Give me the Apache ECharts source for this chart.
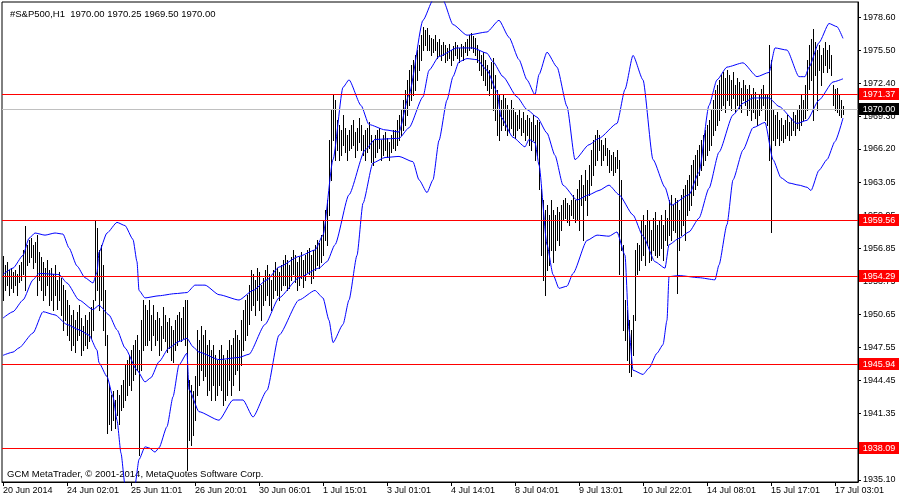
<!DOCTYPE html>
<html><head><meta charset="utf-8">
<script src="https://cdn.jsdelivr.net/npm/echarts@6/dist/echarts.min.js"></script>
<style>html,body{margin:0;padding:0;background:#fff}#c{width:900px;height:500px}</style>
</head><body><div id="c"></div>
<script>
// ---- data ----
const symbolTitle = '#S&P500,H1';
const lastOHLC = [1970.00, 1970.25, 1969.50, 1970.00];
const copyright = 'GCM MetaTrader, \u00a9 2001-2014, MetaQuotes Software Corp.';
const xTickLabels = ['20 Jun 2014','24 Jun 02:01','25 Jun 11:01','26 Jun 20:01','30 Jun 06:01','1 Jul 15:01','3 Jul 01:01','4 Jul 14:01','8 Jul 04:01','9 Jul 13:01','10 Jul 22:01','14 Jul 08:01','15 Jul 17:01','17 Jul 03:01'];
const xTickEvery = 32;
const emptySlotsRight = 7;
const yTicks = [1978.60,1975.50,1972.40,1969.30,1966.20,1963.05,1959.95,1956.85,1953.75,1950.65,1947.55,1944.45,1941.35,1938.25,1935.10];
const levels = [1971.37, 1959.56, 1954.29, 1945.94, 1938.09];
const bidPrice = 1970.00;

const barHigh = [
1956.1,1955.3,1955.6,1954.8,1955.0,1954.6,1954.8,1954.4,1955.3,1955.6,
1956.7,1959.0,1957.2,1957.6,1957.8,1957.2,1957.5,1958.1,1956.5,1956.0,
1955.6,1955.0,1955.8,1954.8,1955.0,1954.4,1955.3,1953.9,1954.6,1954.1,
1953.4,1952.9,1952.0,1951.5,1950.6,1951.1,1950.1,1950.9,1951.5,1950.3,
1949.6,1950.6,1950.1,1950.9,1951.3,1952.0,1959.5,1958.8,1956.7,1957.2,
1955.3,1952.9,1948.7,1944.0,1943.1,1943.4,1942.6,1943.5,1943.1,1944.0,
1944.5,1945.9,1946.4,1946.8,1947.3,1947.8,1948.2,1948.7,1947.3,1950.1,
1952.0,1951.5,1951.1,1952.0,1950.6,1951.5,1950.1,1950.9,1950.3,1949.6,
1951.3,1950.6,1949.9,1950.3,1949.6,1949.2,1950.1,1950.6,1950.9,1950.3,
1951.3,1952.0,1952.0,1944.5,1944.0,1943.4,1944.9,1949.2,1948.2,1949.6,
1948.7,1949.2,1947.8,1948.2,1947.3,1947.8,1946.8,1946.4,1947.3,1947.8,
1946.8,1946.4,1947.3,1948.2,1947.8,1948.4,1949.2,1948.7,1948.2,1950.1,
1951.1,1952.0,1952.5,1953.4,1954.8,1954.4,1953.9,1955.0,1954.6,1953.4,
1954.1,1954.8,1955.3,1954.4,1953.9,1954.8,1955.6,1955.0,1954.6,1955.3,
1955.8,1956.2,1955.8,1955.3,1956.0,1956.7,1956.2,1955.6,1956.0,1956.5,
1955.8,1956.2,1956.7,1956.9,1956.2,1956.7,1957.2,1957.6,1957.4,1958.1,
1959.5,1960.5,1961.4,1967.0,1969.9,1971.3,1970.8,
1968.9,1968.5,1968.0,1969.4,1968.2,1967.5,1968.0,1968.5,1968.9,1967.8,1968.2,1969.1,1968.5,1967.5,1968.0,1968.2,1968.7,1967.5,1967.0,
1967.5,1968.0,1968.2,1967.0,1967.5,1967.8,1967.2,1966.9,1967.5,1968.0,
1968.0,1968.9,1969.4,1969.9,1970.8,
1971.7,1972.7,1973.6,1974.1,1974.6,
1975.0,1975.5,1976.0,
1976.9,1977.7,1977.4,1977.6,
1976.9,1976.6,1976.5,1976.9,1976.3,1976.5,1976.0,1976.3,
1976.0,1975.7,1976.1,1975.5,1975.9,1976.3,1976.0,1975.7,1976.1,1975.9,1976.3,1976.5,
1976.9,1977.1,1976.8,1976.6,1976.0,
1975.5,1975.0,1975.3,1974.6,1974.1,1973.6,1974.4,1974.8,
1973.2,1971.7,1971.3,1970.8,1971.3,
1971.0,1970.3,1969.9,1970.8,1970.1,1969.7,1969.4,1969.9,1969.1,1969.7,1968.9,1969.4,
1969.1,1968.7,1969.4,1968.5,1968.9,1968.7,
1962.4,1961.4,1960.5,1960.9,1960.0,1961.4,
1960.5,1960.0,1960.7,1960.3,1960.9,
1961.4,1961.6,1961.1,1960.9,1961.4,1961.9,1961.4,
1962.4,1963.3,1963.8,1962.8,1964.2,1963.3,1964.7,
1966.1,1967.0,1967.5,1968.0,1967.5,1967.0,1966.6,1967.2,1966.3,
1966.1,1965.6,1965.9,1965.4,1966.1,
1965.2,1963.3,1957.2,
1952.0,1951.1,1950.1,1949.2,1950.6,
1956.7,1957.4,1957.2,
1959.5,1960.0,1959.1,1960.5,1959.5,1958.6,1959.7,1960.3,1959.1,
1959.5,1960.0,1959.1,1960.5,1959.7,
1961.4,1961.9,1960.9,1961.6,
1961.4,
1960.5,1961.9,1962.4,1962.8,1963.3,1963.8,
1964.7,1965.2,1965.6,1966.1,1966.6,1967.0,
1967.5,1968.0,1968.5,1968.9,1969.9,1970.8,
1971.7,1972.2,1972.7,1973.2,1973.4,1972.9,
1973.6,1973.2,1972.7,1973.4,1972.2,1972.9,1972.5,1971.9,1972.7,1972.2,
1971.8,1972.2,1971.3,1971.9,1971.6,1970.8,1971.3,1971.8,1972.2,1971.3,
1971.3,1976.0,1974.6,
1969.9,1969.4,1969.7,1968.9,1969.1,1968.5,1968.9,1969.4,1968.7,1969.1,1969.7,1969.4,1969.9,
1970.3,1971.3,1970.8,1972.2,
1974.6,1976.0,1976.5,1977.5,
1976.3,1975.5,1976.0,1975.0,1975.7,
1976.3,1975.5,1976.0,1975.0,
1972.2,1971.8,1971.9,1971.3,1970.8,1970.25
];
const barLow = [
1952.0,1952.9,1953.4,1952.5,1953.1,1952.8,1953.4,1952.5,1953.7,1953.9,
1954.4,1952.9,1955.3,1955.6,1956.0,1955.0,1955.6,1952.5,1953.9,1952.9,
1952.0,1952.5,1953.4,1951.5,1952.0,1951.1,1952.5,1951.2,1952.0,1950.6,
1949.2,1950.1,1948.7,1948.2,1947.3,1947.8,1947.1,1948.2,1948.7,1946.8,
1947.3,1947.8,1947.5,1948.1,1948.4,1949.2,1952.0,1952.9,1951.1,1952.0,
1949.2,1947.8,1939.5,1940.3,1939.8,1940.7,1940.0,1941.2,1940.3,1941.7,
1941.9,1942.6,1943.1,1944.0,1943.5,1944.5,1945.0,1945.4,1937.4,1945.4,
1947.3,1947.8,1947.8,1948.2,1947.3,1948.7,1947.8,1948.2,1946.8,1947.3,
1948.4,1948.1,1947.1,1947.5,1946.4,1946.2,1947.3,1947.8,1948.2,1948.1,
1948.4,1947.8,1936.0,1938.8,1938.4,1939.3,1940.7,1943.1,1944.0,1945.4,
1944.5,1944.9,1943.1,1943.5,1942.6,1944.0,1942.6,1943.1,1944.0,1943.5,
1942.1,1942.6,1943.1,1944.5,1943.1,1944.0,1945.0,1945.4,1943.5,1945.9,
1947.3,1948.2,1948.7,1949.7,1951.1,1951.5,1950.6,1952.0,1951.1,1950.1,
1951.5,1952.0,1952.5,1951.5,1951.1,1952.2,1952.9,1952.5,1952.0,1952.9,
1953.4,1953.4,1952.9,1953.1,1953.9,1954.4,1953.7,1952.9,1953.4,1954.1,
1953.2,1953.9,1954.6,1954.4,1953.6,1954.1,1954.8,1955.3,1955.0,1955.6,
1956.2,1957.6,1957.2,1960.0,1963.3,1967.0,1965.2,
1966.1,1965.2,1965.6,1966.6,1965.9,1965.2,1966.1,1966.3,1966.6,1965.4,1966.1,1966.9,1966.1,1965.6,1965.2,1965.9,1966.3,1965.0,1964.7,
1965.4,1965.9,1966.3,1965.2,1965.6,1966.1,1965.4,1965.2,1965.9,1966.3,
1966.1,1966.6,1967.0,1967.5,1968.0,
1968.5,1969.4,1970.3,1970.8,1971.3,
1971.7,1972.7,1973.6,
1974.6,1975.5,1976.0,1975.5,
1975.5,1975.0,1975.3,1975.5,1974.8,1975.0,1974.6,1975.0,
1974.4,1974.6,1974.8,1974.1,1974.6,1975.0,1974.8,1974.4,1974.9,1974.6,1975.3,1975.0,
1975.5,1975.7,1975.3,1975.0,1974.4,
1973.6,1973.2,1972.7,1972.2,1971.7,1971.3,1971.9,1969.9,
1968.9,1967.5,1967.0,1968.0,1968.5,
1968.0,1967.5,1967.8,1968.2,1967.5,1967.2,1968.0,1968.2,1967.5,1967.8,1967.0,1967.5,
1966.6,1966.1,1967.0,1965.2,1965.6,1962.4,
1956.2,1953.9,1952.5,1954.8,1955.3,1956.7,
1955.6,1956.7,1957.6,1957.2,1958.6,
1959.5,1959.7,1959.3,1959.1,1960.0,1959.7,1959.3,
1959.5,1958.6,1960.9,1957.6,1961.4,1960.0,1961.9,
1962.8,1963.8,1964.7,1965.2,1966.1,1964.7,1965.2,1965.6,1964.7,
1964.0,1964.2,1963.8,1964.0,1964.4,
1954.4,1956.7,1949.2,
1948.2,1946.4,1945.2,1944.9,1946.8,
1950.1,1954.4,1954.8,
1955.8,1956.2,1955.3,1957.2,1955.6,1955.8,1956.7,1956.2,1956.0,
1956.2,1956.9,1955.8,1957.6,1957.2,
1958.1,1957.6,1958.6,1958.4,
1952.7,
1956.7,1958.1,1959.1,1957.6,1960.0,1960.5,
1960.9,1961.9,1962.4,1962.8,1963.8,1964.2,
1964.7,1965.2,1965.6,1966.1,1966.6,1967.5,
1968.0,1968.5,1968.9,1969.9,1970.3,1969.7,
1970.8,1970.3,1969.9,1971.0,1969.7,1970.3,1970.1,1969.7,1970.8,1970.3,
1969.4,1969.9,1968.9,1969.7,1969.1,1968.5,1969.4,1969.9,1970.3,1968.9,
1968.5,1965.2,1958.4,
1967.0,1966.6,1967.2,1966.6,1967.0,1966.9,1967.2,1967.5,1967.0,1967.5,1968.0,1967.5,1968.2,
1968.0,1968.5,1968.9,1969.1,
1969.9,1971.8,1972.7,1968.9,
1973.2,1969.9,1973.6,1972.2,1973.4,
1974.1,1973.4,1973.8,1973.2,
1970.3,1969.9,1969.7,1969.4,1969.2,1969.5
];

// Bollinger bands, [bar index, price]
const bbUpper = [[0,1954.4],[5,1955.0],[10,1956.2],[13,1957.8],[16,1958.3],[21,1958.1],[26,1958.3],[30,1958.2],[33,1956.9],[37,1955.2],[41,1954.1],[45,1953.6],[47,1954.6],[48,1956.5],[52,1958.3],[57,1959.3],[61,1959.0],[65,1957.7],[67,1955.6],[68,1952.9],[71,1952.2],[78,1952.4],[86,1952.6],[92,1952.7],[96,1953.4],[101,1953.4],[108,1952.5],[118,1952.0],[125,1952.9],[132,1953.9],[138,1955.1],[148,1956.1],[156,1956.7],[160,1958.1],[165,1965.2],[170,1972.0],[173,1972.7],[179,1970.3],[183,1968.5],[191,1968.0],[198,1967.8],[203,1971.3],[210,1978.3],[215,1980.2],[220,1980.2],[225,1977.9],[232,1976.9],[242,1977.2],[248,1978.3],[253,1976.7],[258,1974.6],[262,1972.7],[266,1971.3],[268,1973.2],[272,1975.3],[277,1973.9],[282,1970.2],[286,1965.2],[293,1966.6],[298,1967.2],[307,1968.6],[311,1971.8],[315,1975.0],[320,1972.7],[325,1965.2],[331,1962.6],[334,1960.9],[343,1961.9],[348,1964.0],[353,1970.3],[357,1972.7],[362,1973.9],[370,1974.3],[377,1973.0],[383,1973.4],[386,1975.7],[392,1975.5],[398,1973.0],[401,1973.0],[403,1973.9],[408,1976.2],[413,1978.0],[417,1977.7],[420,1976.6]];
const bbMiddle = [[0,1950.3],[5,1950.9],[10,1952.0],[15,1953.9],[18,1954.5],[28,1954.4],[32,1953.6],[38,1952.0],[45,1951.1],[48,1951.5],[53,1950.6],[57,1949.2],[61,1947.5],[67,1945.4],[71,1944.3],[74,1944.7],[78,1946.2],[83,1947.5],[88,1948.1],[92,1948.4],[95,1947.6],[98,1947.1],[108,1946.4],[118,1946.6],[123,1946.9],[131,1949.7],[138,1952.2],[148,1954.1],[158,1955.0],[162,1955.6],[166,1957.2],[173,1961.9],[181,1966.1],[186,1967.1],[198,1967.2],[203,1968.2],[210,1971.1],[213,1973.6],[218,1974.9],[227,1975.7],[235,1975.7],[242,1975.2],[245,1974.4],[250,1973.0],[257,1971.1],[262,1969.9],[267,1969.2],[272,1967.7],[276,1965.6],[280,1962.8],[287,1961.4],[293,1961.9],[298,1962.3],[303,1962.8],[308,1961.9],[315,1960.0],[320,1958.0],[326,1955.6],[331,1955.0],[333,1957.2],[338,1957.8],[343,1958.4],[348,1959.7],[353,1962.5],[358,1965.9],[365,1969.4],[370,1970.5],[375,1971.0],[383,1971.0],[388,1970.2],[397,1968.6],[402,1968.9],[408,1970.8],[415,1972.5],[420,1972.8]];
const bbLower = [[0,1946.8],[5,1947.1],[8,1947.5],[15,1948.9],[20,1950.9],[26,1950.6],[32,1949.7],[38,1949.2],[43,1948.7],[47,1947.3],[48,1946.1],[52,1944.8],[55,1942.9],[57,1940.7],[59,1937.6],[61,1934.6],[63,1933.7],[66,1934.6],[68,1937.0],[71,1938.2],[73,1938.1],[76,1937.7],[78,1938.1],[82,1940.1],[85,1942.9],[88,1945.9],[92,1947.0],[93,1943.6],[98,1941.5],[108,1940.7],[115,1942.6],[120,1942.6],[125,1941.0],[132,1943.5],[138,1948.7],[148,1952.0],[156,1952.9],[160,1952.2],[163,1950.1],[165,1948.0],[170,1949.7],[173,1952.0],[177,1956.2],[180,1961.1],[185,1964.9],[191,1965.4],[198,1965.5],[205,1965.0],[208,1963.3],[212,1962.1],[215,1963.3],[218,1967.0],[222,1970.8],[225,1973.0],[228,1974.4],[232,1974.7],[237,1974.6],[242,1973.6],[247,1971.6],[249,1969.2],[255,1967.3],[261,1966.4],[263,1967.1],[266,1966.8],[268,1964.7],[272,1957.2],[275,1954.4],[278,1953.1],[282,1953.3],[285,1954.5],[292,1957.6],[297,1958.1],[303,1958.0],[307,1958.4],[311,1956.2],[313,1949.2],[315,1945.4],[320,1945.0],[323,1945.6],[327,1947.0],[330,1947.8],[332,1950.1],[333,1954.2],[338,1954.3],[348,1954.1],[356,1953.9],[358,1955.3],[362,1959.1],[365,1963.3],[370,1966.1],[375,1968.2],[381,1968.7],[385,1965.2],[389,1963.5],[393,1963.0],[398,1962.8],[402,1962.6],[404,1962.3],[408,1964.2],[412,1965.2],[416,1966.9],[420,1969.1]];

// ---- chart ----
const FONT = 'Liberation Sans';
const BLUE = '#0000ff';
const nSlots = barHigh.length + emptySlotsRight;
const cats = [];
for (let i = 0; i < nSlots; i++) cats.push(String(i));
const isTick = (i) => i % xTickEvery === 0 && (i / xTickEvery) < xTickLabels.length;
const barData = barHigh.map((h, i) => [i, h, barLow[i]]);
const levelData = [[0, bidPrice, 1]].concat(levels.map((v) => [0, v, 0]));
const fmt2 = (v) => Number(v).toFixed(2);
const bandSeries = (name, data) => ({type: 'line', name, data, symbol: 'none', connectNulls: true, smooth: 0.2, smoothMonotone: 'x', z: 4, lineStyle: {color: BLUE, width: 1}});

const chart = echarts.init(document.getElementById('c'), null, {renderer: 'canvas'});
chart.setOption({
  animation: false,
  backgroundColor: '#ffffff',
  title: {
    text: symbolTitle + '  ' + lastOHLC.map(fmt2).join(' '),
    left: 5, top: 4,
    textStyle: {fontFamily: FONT, fontSize: 9.5, fontWeight: 'normal', color: '#000'}
  },
  graphic: [{
    type: 'text', left: 7, top: 469,
    style: {text: copyright, font: '9.5px "Liberation Sans"', fill: '#000'}
  }],
  grid: {left: 2, right: 42, top: 2, bottom: 18, show: true, borderColor: '#000', borderWidth: 1, backgroundColor: 'transparent'},
  xAxis: {
    type: 'category', data: cats, boundaryGap: true,
    axisLine: {show: true, lineStyle: {color: '#000', width: 1}},
    axisTick: {show: true, alignWithLabel: true, length: 4, interval: (i) => isTick(i), lineStyle: {color: '#000'}},
    axisLabel: {
      show: true, interval: (i) => isTick(i), align: 'left', margin: 4,
      formatter: (v, i) => xTickLabels[Math.round(i / xTickEvery)] || '',
      fontFamily: FONT, fontSize: 9, color: '#000'
    },
    splitLine: {show: false}
  },
  yAxis: {
    type: 'value', position: 'right', scale: true,
    min: 1934.89, max: 1980.02,
    axisLine: {show: true, onZero: false, lineStyle: {color: '#000', width: 1}},
    axisTick: {show: true, length: 3, customValues: yTicks, lineStyle: {color: '#000'}},
    axisLabel: {show: true, customValues: yTicks, formatter: fmt2, margin: 5, fontFamily: FONT, fontSize: 9, color: '#000'},
    splitLine: {show: false}
  },
  series: [
    {
      type: 'custom', name: 'bars', z: 3, clip: true,
      data: barData,
      encode: {x: 0, y: [1, 2]},
      renderItem: (params, api) => {
        const pHi = api.coord([api.value(0), api.value(1)]);
        const pLo = api.coord([api.value(0), api.value(2)]);
        const x = Math.round(pHi[0]) + 0.5;
        return {type: 'line', shape: {x1: x, y1: Math.round(pHi[1]), x2: x, y2: Math.round(pLo[1]) + 1}, style: {stroke: '#000', lineWidth: 1}};
      }
    },
    bandSeries('upper', bbUpper),
    bandSeries('middle', bbMiddle),
    bandSeries('lower', bbLower),
    {
      type: 'custom', name: 'levels', z: 6, clip: false,
      data: levelData,
      encode: {x: 0, y: 1},
      renderItem: (params, api) => {
        const cs = params.coordSys;
        const v = api.value(1);
        const isBid = api.value(2) === 1;
        const yc = Math.round(api.coord([0, v])[1]);
        const right = cs.x + cs.width;
        return {type: 'group', children: [
          {type: 'line', shape: {x1: cs.x, y1: yc + 0.5, x2: right, y2: yc + 0.5}, style: {stroke: isBid ? '#c0c0c0' : '#ff0000', lineWidth: 1}},
          {type: 'rect', shape: {x: right + 1, y: yc - 6, width: 40, height: 12}, style: {fill: isBid ? '#000000' : '#ff0000'}},
          {type: 'text', x: right + 21, y: yc + 0.5, style: {text: fmt2(v), fill: '#ffffff', font: '9px "Liberation Sans"', align: 'center', verticalAlign: 'middle'}}
        ]};
      }
    }
  ]
});
</script>
</body></html>
